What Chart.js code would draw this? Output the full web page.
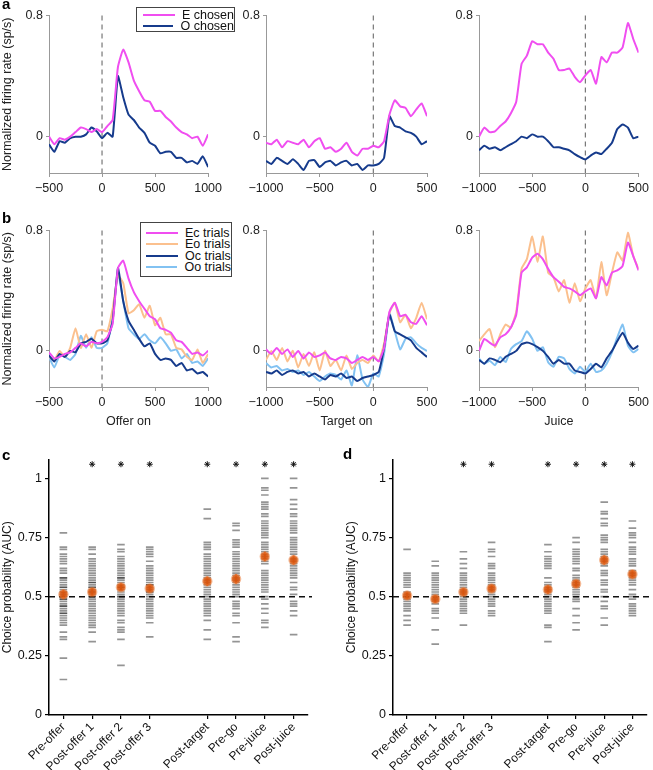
<!DOCTYPE html>
<html>
<head>
<meta charset="utf-8">
<script src="https://cdn.jsdelivr.net/npm/chart.js@4.4.1/dist/chart.umd.min.js"></script>
<style>
  body { margin: 0; background: #fff; font-family: "Liberation Sans", Arial, sans-serif; }
  #fig { position: relative; width: 653px; height: 770px; overflow: hidden; }
  .panel { position: absolute; }
  .letter { position: absolute; font-weight: bold; font-size: 15px; color: #000; z-index: 3; }
  .legend { position: absolute; box-sizing: border-box; border: 1px solid #444; background: #fff;
            font-size: 12.5px; color: #111; z-index: 3; }
  .legend div { display: flex; align-items: center; height: 11.5px; white-space: nowrap; }
  .legend .sw { display: inline-block; width: 32px; height: 2px; margin-right: 7px; }
</style>
</head>
<body>
<div id="fig">
  <div class="letter" style="left:2px;top:-5px">a</div>
  <div class="letter" style="left:2px;top:209px">b</div>
  <div class="letter" style="left:2px;top:446px">c</div>
  <div class="letter" style="left:343px;top:445px">d</div>

  <div class="legend" style="left:136px;top:7px;width:99px;height:25px;padding:1px 0 0 6px">
    <div><span class="sw" style="background:#f04ef0"></span>E chosen</div>
    <div><span class="sw" style="background:#163b8c"></span>O chosen</div>
  </div>
  <div class="legend" style="left:140px;top:222px;width:92px;height:55px;padding:4px 0 0 5px">
    <div><span class="sw" style="background:#f04ef0"></span>Ec trials</div>
    <div><span class="sw" style="background:#fbc08e"></span>Eo trials</div>
    <div><span class="sw" style="background:#163b8c"></span>Oc trials</div>
    <div><span class="sw" style="background:#82c2f2"></span>Oo trials</div>
  </div>
</div>

<script>
// time bins (ms)
const timeOffer = [-500,-450,-400,-350,-300,-250,-200,-150,-100,-50,0,50,100,150,200,250,300,350,400,450,500,550,600,650,700,750,800,850,900,950,1000];
const timeEvent = [-1000,-950,-900,-850,-800,-750,-700,-650,-600,-550,-500,-450,-400,-350,-300,-250,-200,-150,-100,-50,0,50,100,150,200,250,300,350,400,450,500];

// panel a: E chosen / O chosen
const aOfferE  = [0.0,-0.05,-0.01,-0.02,0.0,0.03,0.06,0.05,0.03,0.05,0.03,0.07,0.11,0.46,0.575,0.49,0.37,0.30,0.24,0.23,0.17,0.17,0.13,0.10,0.06,0.03,0.015,-0.01,0.0,-0.06,0.015];
const aOfferO  = [-0.05,-0.10,-0.03,-0.04,-0.01,0.0,0.0,0.015,0.06,0.035,-0.01,0.025,0.0,0.40,0.26,0.145,0.11,0.06,0.025,-0.04,-0.06,-0.11,-0.10,-0.10,-0.14,-0.14,-0.17,-0.16,-0.18,-0.13,-0.20];
const aTargetE = [-0.04,-0.05,-0.02,-0.07,-0.03,-0.04,-0.05,-0.02,-0.07,-0.03,-0.01,-0.08,-0.07,-0.10,-0.08,-0.04,-0.10,-0.125,-0.08,-0.08,-0.06,-0.07,-0.03,0.145,0.24,0.20,0.19,0.135,0.18,0.22,0.135];
const aTargetO = [-0.16,-0.18,-0.14,-0.16,-0.18,-0.15,-0.18,-0.22,-0.16,-0.155,-0.20,-0.17,-0.16,-0.19,-0.17,-0.16,-0.19,-0.18,-0.22,-0.19,-0.19,-0.18,-0.14,0.135,0.07,0.06,0.035,0.025,0.0,-0.05,-0.03];
const aJuiceE  = [0.0,0.06,0.03,0.035,0.07,0.10,0.155,0.23,0.48,0.535,0.63,0.61,0.61,0.555,0.515,0.44,0.44,0.45,0.395,0.36,0.405,0.44,0.35,0.525,0.49,0.555,0.555,0.59,0.75,0.645,0.555];
const aJuiceO  = [-0.09,-0.06,-0.08,-0.07,-0.09,-0.07,-0.05,-0.03,0.0,-0.01,0.015,0.0,0.0,-0.03,-0.07,-0.07,-0.08,-0.09,-0.115,-0.135,-0.15,-0.125,-0.105,-0.115,-0.08,-0.04,0.05,0.08,0.06,-0.01,0.0];

// panel b: Ec / Eo / Oc / Oo trials
const bOfferEc = [-0.01,-0.05,-0.04,-0.02,-0.01,0.02,0.05,0.03,0.06,0.05,0.06,0.09,0.18,0.55,0.60,0.48,0.39,0.33,0.28,0.23,0.21,0.15,0.14,0.12,0.07,0.06,0.02,-0.02,-0.01,-0.03,0.0];
const bOfferEo = [-0.04,-0.06,0.0,-0.04,0.02,0.15,0.02,0.11,0.02,0.13,0.14,0.13,0.28,0.50,0.45,0.25,0.27,0.31,0.22,0.30,0.17,0.22,0.11,0.11,0.02,0.01,-0.04,-0.06,0.01,-0.08,-0.02];
const bOfferOc = [-0.03,-0.07,-0.02,-0.04,0.0,-0.01,0.05,0.06,0.08,0.05,0.05,0.07,0.20,0.55,0.33,0.20,0.14,0.08,0.03,0.05,-0.02,-0.06,-0.05,-0.06,-0.10,-0.08,-0.13,-0.12,-0.15,-0.14,-0.17];
const bOfferOo = [-0.04,-0.11,-0.03,-0.04,-0.06,-0.02,0.10,0.02,0.09,0.02,0.02,0.05,0.22,0.52,0.33,0.15,0.11,0.08,0.11,0.07,0.05,0.09,0.05,0.0,0.01,-0.05,-0.02,-0.08,-0.07,-0.10,-0.05];
const bTargetEc = [0.01,-0.02,0.02,-0.02,0.01,-0.04,0.0,-0.05,-0.01,-0.04,-0.03,-0.01,-0.05,-0.06,-0.04,-0.05,-0.08,-0.06,-0.04,-0.06,-0.04,-0.07,0.02,0.26,0.32,0.23,0.24,0.19,0.18,0.23,0.17];
const bTargetEo = [-0.06,0.0,-0.06,0.02,-0.07,0.0,-0.11,-0.02,-0.10,-0.01,-0.13,0.0,-0.10,-0.06,-0.13,-0.03,-0.12,-0.08,-0.06,-0.08,-0.03,-0.07,0.05,0.25,0.32,0.19,0.24,0.15,0.22,0.32,0.21];
const bTargetOc = [-0.14,-0.15,-0.13,-0.16,-0.14,-0.13,-0.15,-0.14,-0.17,-0.15,-0.17,-0.19,-0.16,-0.17,-0.15,-0.18,-0.17,-0.20,-0.18,-0.17,-0.16,-0.14,0.02,0.24,0.13,0.11,0.09,0.07,0.02,-0.01,-0.04];
const bTargetOo = [-0.08,-0.11,-0.10,-0.13,-0.12,-0.14,-0.13,-0.16,-0.14,-0.17,-0.20,-0.17,-0.15,-0.16,-0.19,-0.13,-0.23,-0.03,-0.19,-0.24,-0.15,-0.17,-0.02,0.25,0.13,0.01,0.08,0.09,0.05,0.02,0.0];
const bJuiceEc = [0.0,0.08,0.055,0.035,0.09,0.11,0.155,0.24,0.52,0.555,0.62,0.645,0.61,0.545,0.49,0.46,0.425,0.415,0.395,0.37,0.395,0.415,0.35,0.49,0.435,0.52,0.535,0.565,0.72,0.63,0.535];
const bJuiceEo = [0.065,0.11,0.145,0.025,0.11,0.175,0.155,0.26,0.545,0.61,0.76,0.59,0.76,0.52,0.49,0.395,0.47,0.32,0.45,0.33,0.415,0.47,0.35,0.59,0.37,0.52,0.655,0.60,0.785,0.63,0.545];
const bJuiceOc = [-0.06,-0.085,-0.05,-0.06,-0.075,-0.04,-0.02,0.0,0.045,0.055,0.045,0.025,0.0,-0.04,-0.085,-0.06,-0.085,-0.085,-0.13,-0.14,-0.15,-0.12,-0.085,-0.11,-0.05,0.0,0.065,0.12,0.055,0.013,0.035];
const bJuiceOo = [-0.05,-0.085,-0.065,-0.095,-0.04,-0.075,0.013,0.045,0.065,0.13,0.08,0.0,0.025,-0.075,-0.105,-0.04,-0.05,-0.12,-0.15,-0.105,-0.14,-0.085,-0.14,-0.13,-0.085,-0.01,0.09,0.175,0.035,-0.01,0.013];

// panels c, d: choice probability per time window
const cpLabels = ['Pre-offer','Post-offer 1','Post-offer 2','Post-offer 3','Post-target','Pre-go','Pre-juice','Post-juice'];
const cpPos = [1,2,3,4,6,7,8,9];

const cNeurons = [
  [0.77,0.71,0.70,0.68,0.67,0.66,0.65,0.64,0.62,0.61,0.60,0.58,0.58,0.57,0.56,0.55,0.54,0.54,0.53,0.52,0.52,0.51,0.50,0.50,0.49,0.49,0.48,0.47,0.46,0.46,0.45,0.44,0.43,0.43,0.42,0.41,0.40,0.39,0.38,0.35,0.33,0.32,0.24,0.15],
  [0.71,0.70,0.68,0.66,0.65,0.64,0.63,0.62,0.61,0.60,0.59,0.58,0.57,0.56,0.56,0.55,0.54,0.54,0.53,0.52,0.52,0.51,0.50,0.50,0.49,0.48,0.47,0.46,0.45,0.44,0.43,0.42,0.41,0.40,0.39,0.38,0.37,0.35,0.31],
  [0.72,0.70,0.69,0.67,0.66,0.65,0.64,0.63,0.62,0.61,0.60,0.59,0.58,0.58,0.57,0.56,0.55,0.54,0.54,0.53,0.52,0.51,0.50,0.50,0.49,0.48,0.47,0.46,0.45,0.44,0.43,0.42,0.40,0.39,0.37,0.36,0.35,0.32,0.21],
  [0.71,0.70,0.69,0.68,0.67,0.65,0.63,0.62,0.61,0.60,0.59,0.58,0.57,0.56,0.55,0.55,0.54,0.53,0.52,0.52,0.51,0.50,0.49,0.48,0.47,0.46,0.45,0.44,0.43,0.42,0.41,0.39,0.33],
  [0.87,0.83,0.73,0.72,0.71,0.70,0.68,0.67,0.66,0.65,0.64,0.63,0.62,0.61,0.60,0.59,0.58,0.57,0.56,0.55,0.54,0.53,0.52,0.51,0.50,0.49,0.48,0.47,0.46,0.45,0.44,0.43,0.42,0.40,0.36,0.32],
  [0.81,0.80,0.78,0.74,0.73,0.72,0.71,0.69,0.68,0.67,0.66,0.65,0.64,0.63,0.62,0.61,0.60,0.59,0.58,0.57,0.56,0.55,0.54,0.53,0.52,0.51,0.50,0.48,0.47,0.46,0.45,0.43,0.42,0.39,0.33,0.31],
  [1.00,0.96,0.95,0.93,0.90,0.89,0.88,0.87,0.85,0.84,0.82,0.81,0.80,0.79,0.78,0.77,0.76,0.75,0.73,0.72,0.71,0.70,0.69,0.68,0.67,0.66,0.65,0.64,0.61,0.60,0.59,0.58,0.57,0.56,0.55,0.54,0.53,0.52,0.50,0.49,0.47,0.45,0.43,0.40,0.39,0.37],
  [1.00,0.96,0.91,0.89,0.87,0.85,0.84,0.82,0.81,0.80,0.79,0.78,0.77,0.75,0.74,0.73,0.72,0.71,0.70,0.69,0.68,0.66,0.65,0.64,0.63,0.62,0.61,0.60,0.59,0.58,0.56,0.54,0.53,0.51,0.48,0.47,0.46,0.44,0.42,0.34]
];
const cMeans = [0.51,0.52,0.54,0.535,0.565,0.575,0.67,0.655];
const cErrs  = [0.02,0.016,0.016,0.016,0.02,0.02,0.02,0.02];
const cSig   = [false,true,true,true,true,true,true,true];

const dNeurons = [
  [0.70,0.60,0.59,0.58,0.57,0.56,0.55,0.54,0.52,0.51,0.50,0.49,0.48,0.47,0.46,0.45,0.44,0.42,0.40,0.38],
  [0.65,0.63,0.60,0.59,0.58,0.57,0.56,0.55,0.54,0.53,0.52,0.51,0.50,0.49,0.48,0.47,0.45,0.44,0.43,0.41,0.36,0.30],
  [0.69,0.66,0.64,0.62,0.60,0.59,0.58,0.57,0.56,0.55,0.54,0.53,0.52,0.51,0.50,0.49,0.48,0.47,0.46,0.45,0.44,0.43,0.38],
  [0.73,0.70,0.69,0.67,0.64,0.63,0.62,0.60,0.59,0.58,0.57,0.56,0.55,0.54,0.53,0.52,0.51,0.50,0.49,0.48,0.47,0.46,0.44,0.43,0.42],
  [0.72,0.69,0.67,0.66,0.65,0.64,0.63,0.62,0.58,0.56,0.55,0.54,0.53,0.52,0.51,0.50,0.49,0.48,0.47,0.46,0.45,0.44,0.43,0.38,0.37,0.31],
  [0.75,0.73,0.70,0.69,0.68,0.67,0.66,0.65,0.64,0.62,0.61,0.59,0.58,0.57,0.56,0.55,0.54,0.53,0.52,0.51,0.50,0.49,0.48,0.45,0.42,0.39,0.36],
  [0.90,0.86,0.85,0.83,0.81,0.80,0.76,0.75,0.74,0.73,0.70,0.69,0.68,0.67,0.66,0.65,0.64,0.63,0.61,0.60,0.59,0.57,0.56,0.55,0.53,0.52,0.50,0.48,0.46,0.45,0.41,0.38],
  [0.82,0.79,0.77,0.76,0.75,0.73,0.71,0.70,0.69,0.68,0.66,0.65,0.64,0.63,0.61,0.60,0.59,0.58,0.57,0.56,0.55,0.53,0.51,0.50,0.49,0.47,0.46,0.45,0.44,0.43,0.42]
];
const dMeans = [0.505,0.49,0.52,0.535,0.53,0.555,0.655,0.595];
const dErrs  = [0.016,0.016,0.016,0.016,0.018,0.016,0.02,0.018];
const dSig   = [false,false,true,true,true,true,true,true];

const MAGENTA = '#f04ef0', NAVY = '#163b8c', PEACH = '#fbc08e', SKY = '#82c2f2';
const FONT = '"Liberation Sans", Arial, sans-serif';
Chart.defaults.font.family = FONT;
Chart.defaults.color = '#222';

const fig = document.getElementById('fig');

// dashed reference line (vertical at event time or horizontal at chance)
const refLine = {
  id: 'refLine',
  beforeDatasetsDraw(chart, args, o) {
    const { ctx, chartArea: a, scales } = chart;
    ctx.save();
    ctx.setLineDash(o.dash || [5, 4]);
    ctx.strokeStyle = o.color || '#777';
    ctx.lineWidth = o.width || 1.2;
    ctx.beginPath();
    if (o.x !== undefined) {
      const px = scales.x.getPixelForValue(o.x);
      ctx.moveTo(px, a.top); ctx.lineTo(px, a.bottom);
    }
    if (o.y !== undefined) {
      const py = scales.y.getPixelForValue(o.y);
      ctx.moveTo(a.left, py); ctx.lineTo(a.right + 4, py);
    }
    ctx.stroke();
    ctx.restore();
  }
};

// error bars drawn right after the dashes
const errBars = {
  id: 'errBars',
  afterDatasetDraw(chart, args, o) {
    if (!chart.data.datasets[args.index].isDashes || !o.means) return;
    const { ctx, scales } = chart;
    ctx.save();
    ctx.strokeStyle = '#d85a14';
    ctx.lineWidth = 2;
    o.means.forEach((m, i) => {
      const px = scales.x.getPixelForValue(cpPos[i]);
      ctx.beginPath();
      ctx.moveTo(px, scales.y.getPixelForValue(m - o.errs[i]));
      ctx.lineTo(px, scales.y.getPixelForValue(m + o.errs[i]));
      ctx.stroke();
    });
    ctx.restore();
  }
};

function place(rect, yW, xH, padR) {
  const padT = 8;
  const div = document.createElement('div');
  div.className = 'panel';
  div.style.left = (rect.l - yW) + 'px';
  div.style.top = (rect.t - padT) + 'px';
  div.style.width = (rect.r - rect.l + yW + padR) + 'px';
  div.style.height = (rect.b - rect.t + padT + xH) + 'px';
  const c = document.createElement('canvas');
  div.appendChild(c);
  fig.appendChild(div);
  return { canvas: c, padding: { top: padT, right: padR, left: 0, bottom: 0 } };
}

function linePanel(rect, yW, padR, times, series, xTitle, yTitle) {
  const xH = xTitle ? 46 : 26;
  const p = place(rect, yW, xH, padR);
  new Chart(p.canvas, {
    type: 'line',
    data: {
      datasets: series.map(s => ({
        data: times.map((t, i) => ({ x: t, y: s.values[i] })),
        borderColor: s.color,
        borderWidth: 2,
        pointRadius: 0,
        tension: 0.15,
        fill: false
      }))
    },
    options: {
      responsive: true,
      maintainAspectRatio: false,
      animation: false,
      events: [],
      layout: { padding: p.padding },
      plugins: { legend: { display: false }, tooltip: { enabled: false }, refLine: { x: 0 } },
      scales: {
        x: {
          type: 'linear', min: times[0], max: times[times.length - 1],
          afterFit: s => { s.height = xH; },
          border: { color: '#999', width: 1 },
          grid: { drawOnChartArea: false, tickLength: 4, color: '#999' },
          ticks: { stepSize: 500, autoSkip: false, padding: 4, font: { size: 12.5 }, color: '#222',
                   callback: v => String(v).replace('-', '\u2212') },
          title: { display: !!xTitle, text: xTitle, font: { size: 12.5 }, color: '#222', padding: { top: 1 } }
        },
        y: {
          min: -0.24, max: 0.8,
          afterFit: s => { s.width = yW; },
          afterBuildTicks: s => { s.ticks = [{ value: 0 }, { value: 0.8 }]; },
          border: { color: '#999', width: 1 },
          grid: { drawOnChartArea: false, tickLength: 3, color: '#999' },
          ticks: { padding: 3, font: { size: 12.5 }, color: '#222', callback: v => v === 0 ? '0' : String(v) },
          title: { display: !!yTitle, text: yTitle, font: { size: 12.5 }, color: '#222', padding: { top: 0, bottom: 1 } }
        }
      }
    },
    plugins: [refLine]
  });
}

function cpPanel(rect, yW, padR, neurons, means, errs, sig) {
  const xH = 770 - rect.b;
  const p = place(rect, yW, xH, padR);
  const dashPts = [];
  neurons.forEach((arr, i) => arr.forEach(v => dashPts.push({ x: cpPos[i], y: v })));
  const starPts = [];
  sig.forEach((s, i) => { if (s) starPts.push({ x: cpPos[i], y: 1.06 }); });
  new Chart(p.canvas, {
    type: 'scatter',
    data: {
      datasets: [
        { data: starPts, order: 0, pointStyle: 'star', pointRadius: 3, pointBorderWidth: 1,
          pointBorderColor: '#111', pointBackgroundColor: '#111' },
        { data: means.map((m, i) => ({ x: cpPos[i], y: m })), order: 1, pointStyle: 'circle',
          pointRadius: 4, pointBackgroundColor: 'rgba(215,85,15,0.9)', pointBorderColor: 'rgba(235,120,50,0.5)',
          pointBorderWidth: 2.5 },
        { data: dashPts, order: 2, isDashes: true, pointStyle: 'line', pointRadius: 3.8,
          pointBorderWidth: 1.7, pointBorderColor: 'rgba(0,0,0,0.42)' }
      ]
    },
    options: {
      responsive: true,
      maintainAspectRatio: false,
      animation: false,
      events: [],
      layout: { padding: p.padding },
      plugins: {
        legend: { display: false }, tooltip: { enabled: false },
        refLine: { y: 0.5, color: '#111', dash: [6, 4], width: 1.5 },
        errBars: { means: means, errs: errs }
      },
      scales: {
        x: {
          type: 'linear', min: 0.5, max: 9.5,
          afterFit: s => { s.height = xH; },
          afterBuildTicks: s => { s.ticks = cpPos.map(v => ({ value: v })); },
          border: { color: '#000', width: 1.5 },
          grid: { drawOnChartArea: false, tickLength: 4, color: '#000', lineWidth: 1.2 },
          ticks: { autoSkip: false, minRotation: 45, maxRotation: 45, padding: 1, font: { size: 12 },
                   color: '#111', callback: (v, i) => cpLabels[i] }
        },
        y: {
          min: 0, max: 1.08,
          afterFit: s => { s.width = yW; },
          afterBuildTicks: s => { s.ticks = [0, 0.25, 0.5, 0.75, 1].map(v => ({ value: v })); },
          border: { color: '#000', width: 1.5 },
          grid: { drawOnChartArea: false, tickLength: 4, color: '#000', lineWidth: 1.2 },
          ticks: { padding: 3, font: { size: 12.5 }, color: '#111', callback: v => String(v) },
          title: { display: true, text: 'Choice probability (AUC)', font: { size: 12 }, color: '#111',
                   padding: { top: 0, bottom: 1 } }
        }
      }
    },
    plugins: [refLine, errBars]
  });
}

const yLab = 'Normalized firing rate (sp/s)';
const rowA = { t: 13, b: 173 }, rowB = { t: 228, b: 387 };
const colX = [{ l: 49, r: 210 }, { l: 266, r: 427 }, { l: 479, r: 641 }];

linePanel({ ...colX[0], ...rowA }, 49, 16, timeOffer,
  [{ values: aOfferE, color: MAGENTA }, { values: aOfferO, color: NAVY }], '', yLab);
linePanel({ ...colX[1], ...rowA }, 30, 16, timeEvent,
  [{ values: aTargetE, color: MAGENTA }, { values: aTargetO, color: NAVY }], '', '');
linePanel({ ...colX[2], ...rowA }, 30, 12, timeEvent,
  [{ values: aJuiceE, color: MAGENTA }, { values: aJuiceO, color: NAVY }], '', '');

linePanel({ ...colX[0], ...rowB }, 49, 16, timeOffer,
  [{ values: bOfferEc, color: MAGENTA }, { values: bOfferOc, color: NAVY },
   { values: bOfferEo, color: PEACH }, { values: bOfferOo, color: SKY }], 'Offer on', yLab);
linePanel({ ...colX[1], ...rowB }, 30, 16, timeEvent,
  [{ values: bTargetEc, color: MAGENTA }, { values: bTargetOc, color: NAVY },
   { values: bTargetEo, color: PEACH }, { values: bTargetOo, color: SKY }], 'Target on', '');
linePanel({ ...colX[2], ...rowB }, 30, 12, timeEvent,
  [{ values: bJuiceEc, color: MAGENTA }, { values: bJuiceOc, color: NAVY },
   { values: bJuiceEo, color: PEACH }, { values: bJuiceOo, color: SKY }], 'Juice', '');

cpPanel({ l: 49, r: 308, t: 457, b: 715 }, 49, 12, cNeurons, cMeans, cErrs, cSig);
cpPanel({ l: 393, r: 651, t: 457, b: 715 }, 49, 2, dNeurons, dMeans, dErrs, dSig);
</script>
</body>
</html>
